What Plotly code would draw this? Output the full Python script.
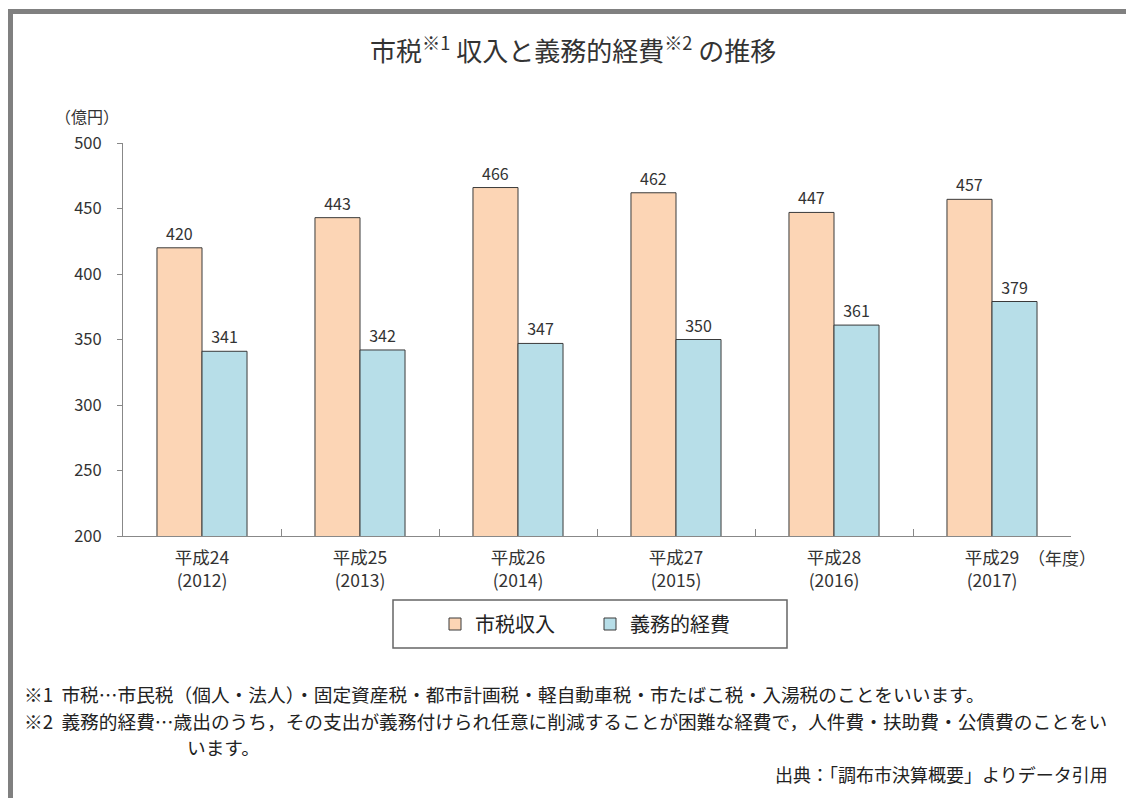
import plotly.graph_objects as go

# ---- data ----
categories = ["平成24<br>(2012)", "平成25<br>(2013)", "平成26<br>(2014)",
              "平成27<br>(2015)", "平成28<br>(2016)", "平成29<br>(2017)"]
tax_revenue = [420, 443, 466, 462, 447, 457]
mandatory_exp = [341, 342, 347, 350, 361, 379]
series_names = ["市税収入", "義務的経費"]
y_ticks = [200, 250, 300, 350, 400, 450, 500]

title_text = "市税<sup>※1</sup> 収入と義務的経費<sup>※2</sup> の推移"
unit_text = "（億円）"
year_unit_text = "（年度）"
note1 = "※1  市税…市民税（個人・法人）・固定資産税・都市計画税・軽自動車税・市たばこ税・入湯税のことをいいます。"
note2 = "※2  義務的経費…歳出のうち，その支出が義務付けられ任意に削減することが困難な経費で，人件費・扶助費・公債費のことをい"
note3 = "います。"
source_text = "出典：「調布市決算概要」よりデータ引用"

FONT = "Noto Sans CJK JP"
W, H = 1126, 798
L, R, T, B = 123, 1071, 143, 536  # plot area in pixels


def px(x):
    return (x - L) / (R - L)


def py(y):
    return (B - y) / (B - T)


fig = go.Figure()
fig.add_trace(go.Bar(
    x=categories, y=tax_revenue, name=series_names[0],
    marker=dict(color="#FCD5B5", line=dict(color="#3a3a3a", width=1)),
    texttemplate="%{y}", textposition="outside",
    textfont=dict(size=16, color="#333", family=FONT),
    cliponaxis=False,
))
fig.add_trace(go.Bar(
    x=categories, y=mandatory_exp, name=series_names[1],
    marker=dict(color="#B7DEE8", line=dict(color="#3a3a3a", width=1)),
    texttemplate="%{y}", textposition="outside",
    textfont=dict(size=16, color="#333", family=FONT),
    cliponaxis=False,
))

shapes = [
    # frame (top and left)
    dict(type="line", xref="paper", yref="paper", x0=px(8), x1=px(1130), y0=py(11.5), y1=py(11.5),
         line=dict(color="#808080", width=5)),
    dict(type="line", xref="paper", yref="paper", x0=px(10.5), x1=px(10.5), y0=py(9), y1=py(800),
         line=dict(color="#808080", width=5)),
    # legend box
    dict(type="rect", xref="paper", yref="paper", x0=px(393), x1=px(787), y0=py(648), y1=py(600),
         line=dict(color="#666", width=1.5), fillcolor="rgba(0,0,0,0)"),
]

annotations = [
    dict(text=title_text, xref="paper", yref="paper", x=px(573), y=py(48), showarrow=False,
         xanchor="center", yanchor="middle", font=dict(size=26, color="#333", family=FONT)),
    dict(text=unit_text, xref="paper", yref="paper", x=px(87), y=py(116), showarrow=False,
         xanchor="center", yanchor="middle", font=dict(size=16, color="#333", family=FONT)),
    dict(text=year_unit_text, xref="paper", yref="paper", x=px(1026), y=py(557), showarrow=False,
         xanchor="left", yanchor="middle", font=dict(size=17, color="#333", family=FONT)),
    dict(text=note1, xref="paper", yref="paper", x=px(22), y=py(693), showarrow=False,
         xanchor="left", yanchor="middle", font=dict(size=18.7, color="#222", family=FONT)),
    dict(text=note2, xref="paper", yref="paper", x=px(22), y=py(720), showarrow=False,
         xanchor="left", yanchor="middle", font=dict(size=18.7, color="#222", family=FONT)),
    dict(text=note3, xref="paper", yref="paper", x=px(185), y=py(746), showarrow=False,
         xanchor="left", yanchor="middle", font=dict(size=18.7, color="#222", family=FONT)),
    dict(text=source_text, xref="paper", yref="paper", x=px(1110), y=py(774), showarrow=False,
         xanchor="right", yanchor="middle", font=dict(size=18, color="#222", family=FONT)),
]

fig.update_layout(
    width=W, height=H,
    margin=dict(l=L, r=W - R, t=T, b=H - B, pad=0),
    paper_bgcolor="white", plot_bgcolor="white",
    font=dict(family=FONT, color="#333", size=16),
    barmode="group", bargap=0.43, bargroupgap=0,
    showlegend=True,
    legend=dict(orientation="h", x=px(590), y=py(624), xanchor="center", yanchor="middle",
                bgcolor="rgba(0,0,0,0)", borderwidth=0,
                font=dict(size=20, color="#222", family=FONT),
                entrywidth=110, entrywidthmode="pixels", itemwidth=30),
    shapes=shapes, annotations=annotations,
)
fig.update_yaxes(range=[200, 500], tickvals=y_ticks, showgrid=False, zeroline=False,
                 showline=True, linecolor="#888", linewidth=1,
                 ticks="outside", ticklen=5, tickcolor="#888",
                 ticklabelstandoff=12,
                 tickfont=dict(size=16.5, color="#333", family=FONT))
fig.update_xaxes(showgrid=False, showline=True, linecolor="#888", linewidth=1,
                 ticks="inside", ticklen=7, tickcolor="#888", tickson="boundaries",
                 ticklabelstandoff=6,
                 tickfont=dict(size=17.5, color="#333", family=FONT))

fig.write_html("out.html", config={"displayModeBar": False},
               post_script="document.body.style.margin='0';")
